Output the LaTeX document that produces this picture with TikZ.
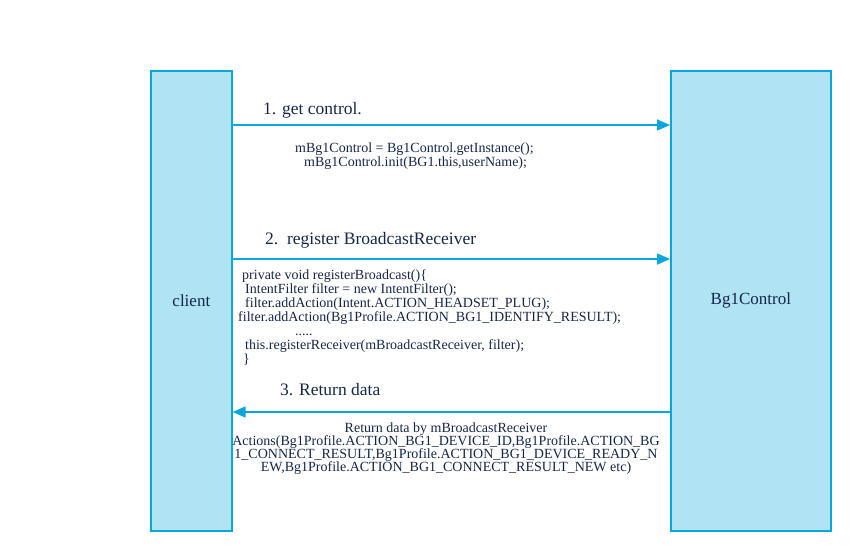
\documentclass[tikz,border=0pt]{standalone}
\usepackage{fontspec}
\setmainfont{Liberation Serif}
\usetikzlibrary{arrows.meta}
\definecolor{boxfill}{HTML}{B0E3F3}
\definecolor{boxline}{HTML}{0AA7DB}
\definecolor{txt}{HTML}{16264A}
\begin{document}
\begin{tikzpicture}[x=1pt,y=-1pt,
  lifebox/.style={draw=boxline,fill=boxfill,line width=1.7pt,minimum width=#1,minimum height=460pt,inner sep=0pt,anchor=north west,font=\fontsize{17}{20}\selectfont,text=txt},
  msg/.style={draw=boxline,line width=1.8pt,-{Triangle[length=13pt,width=11pt]}},
  lbl/.style={anchor=base west,inner sep=0pt,font=\fontsize{17.5}{20}\selectfont,text=txt},
  code/.style={inner sep=0pt,font=\fontsize{14}{14}\selectfont,text=txt}]
\useasboundingbox (0,0) rectangle (850,550);
\node[lifebox=81pt] (client) at (150,70) {client};
\node[lifebox=160pt] (bg) at (670,70) {Bg1Control};
\coordinate (y1) at (0,125);
\coordinate (y2) at (0,259);
\coordinate (y3) at (0,412);
\draw[msg] (client.east |- y1) -- (bg.west |- y1);
\draw[msg] (client.east |- y2) -- (bg.west |- y2);
\draw[msg] (bg.west |- y3) -- (client.east |- y3);
\node[lbl] (l1) at (263,114) {1. get control.};
\node[lbl] (l2) at (265,244) {2.\ \ register BroadcastReceiver};
\node[lbl] (l3) at (280,395) {3. Return data};
\node[code,anchor=base west,align=left] (c1) at (295,166) {mBg1Control = Bg1Control.getInstance();\\\hspace*{9pt}mBg1Control.init(BG1.this,userName);};
\node[code,anchor=base west,align=left] (c2) at (238,363) {\hspace*{4pt}private void registerBroadcast()\{\\
\hspace*{7pt}IntentFilter filter = new IntentFilter();\\
\hspace*{7pt}filter.addAction(Intent.ACTION\_HEADSET\_PLUG);\\
filter.addAction(Bg1Profile.ACTION\_BG1\_IDENTIFY\_RESULT);\\
\hspace*{57pt}.....\\
\hspace*{7pt}this.registerReceiver(mBroadcastReceiver, filter);\\
\hspace*{5pt}\}};
\node[code,anchor=base,align=center,font=\fontsize{14}{13}\selectfont] (c3) at (446,471) {Return data by mBroadcastReceiver\\
Actions(Bg1Profile.ACTION\_BG1\_DEVICE\_ID,Bg1Profile.ACTION\_BG\\
1\_CONNECT\_RESULT,Bg1Profile.ACTION\_BG1\_DEVICE\_READY\_N\\
EW,Bg1Profile.ACTION\_BG1\_CONNECT\_RESULT\_NEW etc)};
\end{tikzpicture}
\end{document}
